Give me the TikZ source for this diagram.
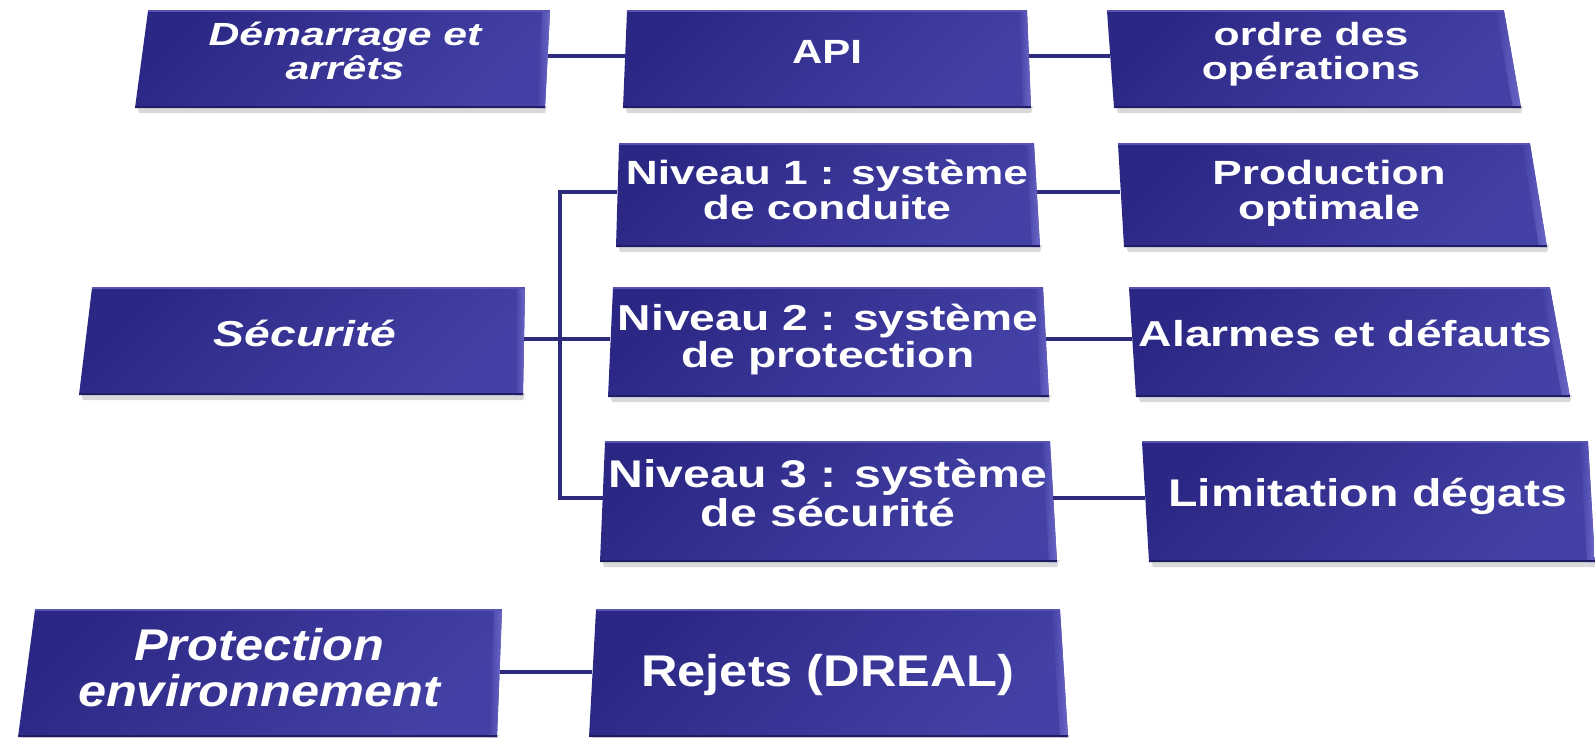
\documentclass[tikz,border=0pt]{standalone}
\usepackage{fontspec}
\setmainfont{Liberation Sans}
\usepackage{graphicx}
\definecolor{boxdark}{HTML}{2B2885}
\definecolor{boxlight}{HTML}{4441A6}
\definecolor{rimc}{HTML}{6A67C6}
\definecolor{linec}{HTML}{2D2B7E}
\definecolor{botc}{HTML}{1F1D63}
\definecolor{topc}{HTML}{5654B0}
\tikzset{
  conn/.style={draw=linec, line width=4.2pt},
  lbl/.style={text=white, inner sep=0pt, minimum height=60pt, anchor=center},
}
% #1 TLx #2 TRx #3 BRx #4 BLx #5 top #6 bottom
\newcommand\pbox[6]{%
  \fill[black, opacity=0.15] (#4+2,-#6+2) -- (#3+2,-#6+2) -- (#3,-#6-5) -- (#4+4,-#6-5) -- cycle;
  \shade[top color=boxdark, bottom color=boxlight, shading angle=45] (#1,-#5) -- (#2,-#5) -- (#3,-#6) -- (#4,-#6) -- cycle;
  \shade[left color=boxlight, right color=rimc] (#2-8,-#5) -- (#2,-#5) -- (#3,-#6) -- (#3-8,-#6) -- cycle;
  \draw[topc, line width=1.2pt] (#1,-#5) -- (#2,-#5);
  \draw[botc, line width=2pt] (#4,-#6+1) -- (#3,-#6+1);
}
\newcommand\tx[4]{\scalebox{1}[#1]{\fontsize{#2}{#3}\selectfont\bfseries\begin{tabular}{@{}c@{}}#4\end{tabular}}}
\newcommand\txi[4]{\scalebox{1}[#1]{\fontsize{#2}{#3}\selectfont\bfseries\itshape\begin{tabular}{@{}c@{}}#4\end{tabular}}}
\newcommand\dn[2]{\raisebox{-#1}[\height][\depth]{#2}}
\begin{document}
\begin{tikzpicture}[x=1pt,y=1pt]
\fill[white] (0,0) rectangle (1595,-737);
\useasboundingbox (0,0) rectangle (1595,-737);
% boxes
\pbox{148}{550}{545}{135}{11}{108}
\pbox{627}{1027}{1031}{623}{11}{108}
\pbox{1107}{1504}{1521}{1114}{11}{108}
\pbox{619}{1034}{1040}{616}{144}{247}
\pbox{1118}{1530}{1547}{1124}{144}{247}
\pbox{92}{525}{523}{79}{288}{395}
\pbox{613}{1043}{1049}{608}{288}{397}
\pbox{1129}{1550}{1570}{1136}{288}{397}
\pbox{605}{1050}{1057}{600}{442}{562}
\pbox{1142}{1588}{1595}{1149}{442}{562}
\pbox{35}{502}{497}{18}{610}{737}
\pbox{596}{1060}{1068}{589}{610}{737}
% labels
\node[lbl, minimum width=406pt] (dem) at (345,-56) {\txi{0.75}{42.7}{45}{Démarrage et\\arrêts}};
\node[lbl, minimum width=404pt] (api) at (827,-56) {\tx{0.8}{42}{45}{API}};
\node[lbl, minimum width=402pt] (ord) at (1311,-56) {\tx{0.75}{42.7}{45}{ordre des\\opérations}};
\node[lbl, minimum width=419pt] (n1) at (827,-192) {\dn{3pt}{\tx{0.76}{44.2}{46}{Niveau 1 : système\\de conduite}}};
\node[lbl, minimum width=417pt] (prod) at (1329,-192) {\dn{3pt}{\tx{0.76}{44.2}{46}{Production\\optimale}}};
\node[lbl, minimum width=438pt] (secu) at (305,-339) {\txi{0.78}{46.2}{46}{Sécurité}};
\node[lbl, minimum width=435pt] (n2) at (828,-339) {\dn{2pt}{\tx{0.78}{46.2}{45.6}{Niveau 2 : système\\de protection}}};
\node[lbl, minimum width=427pt] (ala) at (1345.5,-339) {\tx{0.78}{46.2}{46}{Alarmes et défauts}};
\node[lbl, minimum width=450pt] (n3) at (828,-498) {\tx{0.8}{48.2}{45.8}{Niveau 3 : système\\de sécurité}};
\node[lbl, minimum width=446pt] (lim) at (1368,-498) {\tx{0.8}{48.2}{46}{Limitation dégats}};
\node[lbl, minimum width=473pt] (prot) at (263,-672) {\hspace*{-8pt}\dn{2pt}{\txi{0.88}{50.5}{52}{Protection\\environnement}}};
\node[lbl, minimum width=471pt] (rej) at (828,-672) {\dn{5pt}{\tx{0.88}{50.5}{52}{Rejets (DREAL)}}};
% connectors
\coordinate (bar) at (560,-339);
\draw[conn] (dem.east) -- (api.west);
\draw[conn] (api.east) -- (ord.west);
\draw[conn] (n1.east) -- (prod.west);
\draw[conn] (n2.east) -- (ala.west);
\draw[conn] (n3.east) -- (lim.west);
\draw[conn] (prot.east) -- (rej.west);
\draw[conn] (secu.east) -- (n2.west);
\draw[conn] (n1.west) -- (n1.west -| bar) -- (n3.west -| bar) -- (n3.west);
\end{tikzpicture}
\end{document}
